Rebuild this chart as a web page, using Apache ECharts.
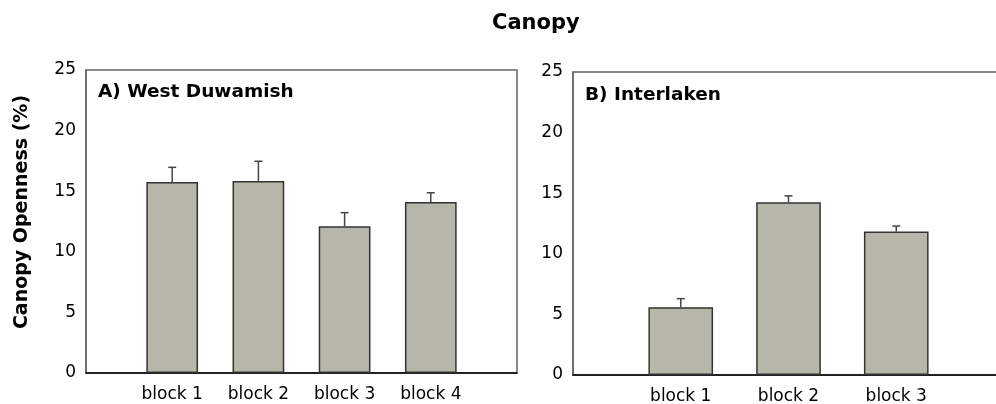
<!DOCTYPE html>
<html>
<head>
<meta charset="utf-8">
<script src="https://cdn.jsdelivr.net/npm/echarts@6/dist/echarts.min.js"></script>
<style>
  html, body { margin: 0; padding: 0; background: #fff; }
  #chart { width: 996px; height: 404px; }
</style>
</head>
<body>
<div id="chart"></div>
<script>
// ---- Data ----
const chartTitle = 'Canopy';
const yAxisTitle = 'Canopy Openness (%)';
const panelATitle = 'A) West Duwamish';
const panelBTitle = 'B) Interlaken';

const westCategories = ['block 1', 'block 2', 'block 3', 'block 4'];
const westMeans = [15.75, 15.85, 12.1, 14.1];
const westErrors = [1.22, 1.62, 1.13, 0.77];

const interCategories = ['block 1', 'block 2', 'block 3'];
const interMeans = [5.6, 14.25, 11.85];
const interErrors = [0.7, 0.53, 0.44];

const yTicks = [0, 5, 10, 15, 20, 25];

// ---- Build ----
const FONT = '"DejaVu Sans", sans-serif';
const BAR_FILL = '#b6b6aa';
const BAR_EDGE = '#333333';
const ERR_COLOR = '#444444';

function padCats(c) { return [''].concat(c).concat(['']); }
function barData(vals) { return vals.map((v, i) => [i + 1, v]); }
function errData(vals, errs) { return vals.map((v, i) => [i + 1, v, errs[i]]); }

function errRender(params, api) {
  const x = api.value(0), v = api.value(1), e = api.value(2);
  const p0 = api.coord([x, v]);
  const p1 = api.coord([x, v + e]);
  const hw = 4;
  const st = { stroke: ERR_COLOR, lineWidth: 1.5 };
  return {
    type: 'group',
    children: [
      { type: 'line', shape: { x1: p0[0], y1: p0[1], x2: p1[0], y2: p1[1] }, style: st },
      { type: 'line', shape: { x1: p1[0] - hw, y1: p1[1], x2: p1[0] + hw, y2: p1[1] }, style: st }
    ]
  };
}

function xAxisCfg(gi, cats) {
  return {
    type: 'category', gridIndex: gi, data: padCats(cats), boundaryGap: false,
    axisLine: { lineStyle: { color: '#000', width: 1.5 } },
    axisTick: { show: false },
    axisLabel: { color: '#000', fontFamily: FONT, fontSize: 17, margin: 13, interval: 0 },
    splitLine: { show: false }
  };
}
function yAxisCfg(gi) {
  return {
    type: 'value', gridIndex: gi, min: yTicks[0], max: yTicks[yTicks.length - 1], interval: 5,
    axisLine: { show: true, lineStyle: { color: '#666', width: 1.5 } },
    axisTick: { show: false },
    axisLabel: { color: '#000', fontFamily: FONT, fontSize: 17, margin: 10 },
    splitLine: { show: false }
  };
}

const option = {
  backgroundColor: '#fff',
  animation: false,
  title: [
    { text: chartTitle, left: 492, top: 13, padding: 0,
      textStyle: { fontFamily: FONT, fontWeight: 'bold', fontSize: 21, color: '#000' } },
    { text: panelATitle, left: 98, top: 83, padding: 0,
      textStyle: { fontFamily: FONT, fontWeight: 'bold', fontSize: 18.5, color: '#000' } },
    { text: panelBTitle, left: 585, top: 86, padding: 0,
      textStyle: { fontFamily: FONT, fontWeight: 'bold', fontSize: 18.5, color: '#000' } }
  ],
  graphic: [
    { type: 'text', x: 22, y: 212, rotation: Math.PI / 2,
      style: { text: yAxisTitle, align: 'center', verticalAlign: 'middle',
               font: 'bold 19px "DejaVu Sans", sans-serif', fill: '#000' } }
  ],
  grid: [
    { left: 86, top: 70, width: 431, height: 303, show: true, borderColor: '#666', borderWidth: 1.5,
      containLabel: false, outerBoundsMode: 'none' },
    { left: 573, top: 72, width: 431, height: 303, show: true, borderColor: '#666', borderWidth: 1.5,
      containLabel: false, outerBoundsMode: 'none' }
  ],
  xAxis: [xAxisCfg(0, westCategories), xAxisCfg(1, interCategories)],
  yAxis: [yAxisCfg(0), yAxisCfg(1)],
  series: [
    { type: 'bar', xAxisIndex: 0, yAxisIndex: 0, data: barData(westMeans), barWidth: '60%',
      itemStyle: { color: BAR_FILL, borderColor: BAR_EDGE, borderWidth: 1.5 } },
    { type: 'custom', xAxisIndex: 0, yAxisIndex: 0, data: errData(westMeans, westErrors),
      renderItem: errRender, z: 3 },
    { type: 'bar', xAxisIndex: 1, yAxisIndex: 1, data: barData(interMeans), barWidth: '60%',
      itemStyle: { color: BAR_FILL, borderColor: BAR_EDGE, borderWidth: 1.5 } },
    { type: 'custom', xAxisIndex: 1, yAxisIndex: 1, data: errData(interMeans, interErrors),
      renderItem: errRender, z: 3 }
  ]
};

const chart = echarts.init(document.getElementById('chart'), null, { renderer: 'canvas' });
chart.setOption(option);
</script>
</body>
</html>
